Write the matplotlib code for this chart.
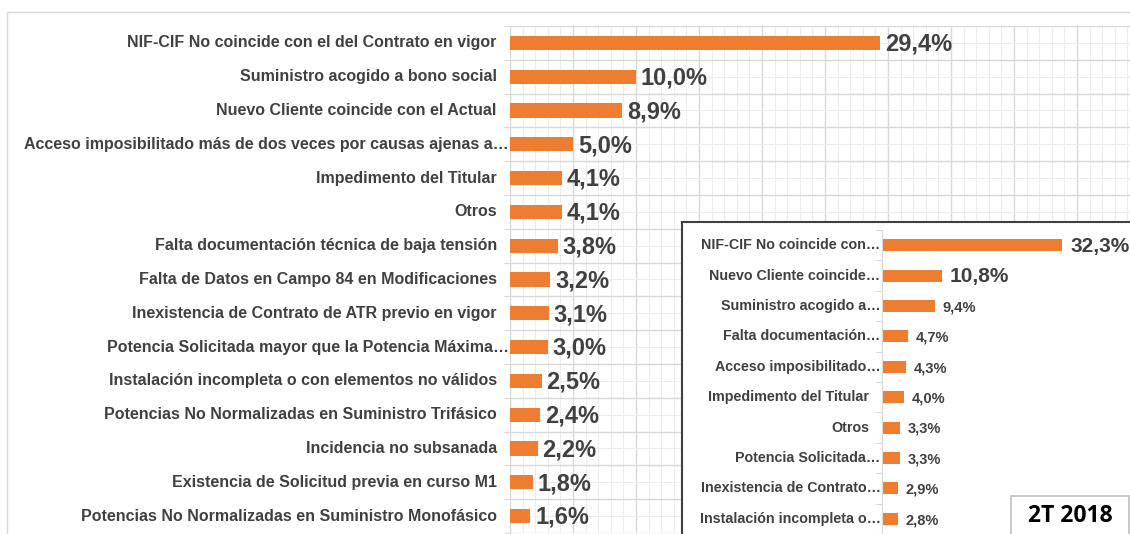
import matplotlib.pyplot as plt
from matplotlib.patches import Rectangle
from matplotlib.ticker import MultipleLocator
import numpy as np

plt.rcParams['font.family'] = ['Liberation Sans', 'DejaVu Sans']

# main chart: causes of rejection, % share
main_labels = [
    "NIF-CIF No coincide con el del Contrato en vigor",
    "Suministro acogido a bono social",
    "Nuevo Cliente coincide con el Actual",
    "Acceso imposibilitado más de dos veces por causas ajenas a…",
    "Impedimento del Titular",
    "Otros",
    "Falta documentación técnica de baja tensión",
    "Falta de Datos en Campo 84 en Modificaciones",
    "Inexistencia de Contrato de ATR previo en vigor",
    "Potencia Solicitada mayor que la Potencia Máxima…",
    "Instalación incompleta o con elementos no válidos",
    "Potencias No Normalizadas en Suministro Trifásico",
    "Incidencia no subsanada",
    "Existencia de Solicitud previa en curso M1",
    "Potencias No Normalizadas en Suministro Monofásico",
]
main_values = [29.4, 10.0, 8.9, 5.0, 4.1, 4.1, 3.8, 3.2, 3.1, 3.0, 2.5, 2.4, 2.2, 1.8, 1.6]

# inset: previous quarter
inset_labels = [
    "NIF-CIF No coincide con…",
    "Nuevo Cliente coincide…",
    "Suministro acogido a…",
    "Falta documentación…",
    "Acceso imposibilitado…",
    "Impedimento del Titular",
    "Otros",
    "Potencia Solicitada…",
    "Inexistencia de Contrato…",
    "Instalación incompleta o…",
]
inset_values = [32.3, 10.8, 9.4, 4.7, 4.3, 4.0, 3.3, 3.3, 2.9, 2.8]
inset_title = "2T 2018"

ORANGE = '#ED7D31'
TEXT = '#404040'
W, H = 1130, 534


def fmt(v):
    return f"{v:.1f}%".replace('.', ',')


def px_rect(x0, y0, x1, y1):
    # pixel box (top-left origin) -> figure fraction rect
    return [x0 / W, 1 - y1 / H, (x1 - x0) / W, (y1 - y0) / H]


fig = plt.figure(figsize=(W / 100, H / 100), dpi=100)

# outer light frame of the main chart
fig.patches.append(Rectangle((7 / W, -0.2), 1.2, 1.2 - 12 / H, transform=fig.transFigure,
                             fill=False, edgecolor='#D9D9D9', lw=1.0, zorder=0.5))

# ---- main chart
ax = fig.add_axes(px_rect(510, 26, 1140, 533))
y = np.arange(len(main_values))
ax.barh(y, main_values, height=0.42, color=ORANGE, zorder=3)
ax.set_xlim(0, 50)
ax.set_ylim(len(main_values) - 0.5, -0.5)
ax.xaxis.set_major_locator(MultipleLocator(5))
ax.xaxis.set_minor_locator(MultipleLocator(1))
ax.set_yticks(np.arange(-0.5, len(main_values), 1))
ax.set_yticks(y, minor=True)
ax.grid(which='major', color='#D9D9D9', lw=1.0, zorder=0)
ax.grid(which='minor', color='#EDEDED', lw=0.8, zorder=0)
ax.tick_params(axis='x', which='both', length=0, labelbottom=False)
ax.tick_params(axis='y', which='major', length=4, color='#D9D9D9', labelleft=False)
ax.tick_params(axis='y', which='minor', length=0, labelleft=False)
for s in ['top', 'right', 'bottom']:
    ax.spines[s].set_visible(False)
ax.spines['left'].set_color('#D9D9D9')

for yi, lab, v in zip(y, main_labels, main_values):
    pad = -1 if lab.endswith('…') else -9.5
    ax.annotate(lab, xy=(0, yi), xycoords=('axes fraction', 'data'), xytext=(pad, 0),
                textcoords='offset points', ha='right', va='center', fontsize=11.5,
                fontweight='bold', color=TEXT)
    ax.annotate(fmt(v), xy=(v, yi), xytext=(3.5, -1), textcoords='offset points',
                ha='left', va='center', fontsize=17, fontweight='bold', color=TEXT, zorder=4)

# ---- inset box
fig.patches.append(Rectangle((682 / W, -0.2), 1.2, 1.2 - 222 / H, transform=fig.transFigure,
                             facecolor='white', edgecolor='#404040', lw=1.5, zorder=1))

ins = fig.add_axes(px_rect(882, 230, 1130, 534))
ins.set_zorder(2)
ins.patch.set_alpha(0)
yi_ = np.arange(len(inset_values))
ins.barh(yi_, inset_values, height=0.4, color=ORANGE)
ins.set_xlim(0, 44.4)
ins.set_ylim(len(inset_values) - 0.5, -0.5)
ins.set_xticks([])
ins.set_yticks(np.arange(-0.5, len(inset_values), 1))
ins.tick_params(axis='y', length=4, color='#D9D9D9', labelleft=False)
for s in ['top', 'right', 'bottom']:
    ins.spines[s].set_visible(False)
ins.spines['left'].set_color('#D9D9D9')

value_sizes = [15, 15] + [10.5] * (len(inset_values) - 2)
for yy, lab, v, fs in zip(yi_, inset_labels, inset_values, value_sizes):
    pad = -1 if lab.endswith('…') else -9
    ins.annotate(lab, xy=(0, yy), xycoords=('axes fraction', 'data'), xytext=(pad, 0),
                 textcoords='offset points', ha='right', va='center', fontsize=10.3,
                 fontweight='bold', color=TEXT)
    ins.annotate(fmt(v), xy=(v, yy), xytext=(5.5, -1), textcoords='offset points',
                 ha='left', va='center', fontsize=fs, fontweight='bold', color=TEXT)

# quarter tag
fig.patches.append(Rectangle((1011 / W, -0.1), 118 / W, 0.1 + 1 - 496 / H, transform=fig.transFigure,
                             facecolor='white', edgecolor='#BFBFBF', lw=1.2, zorder=3))
fig.text(1070 / W, 1 - 516 / H, inset_title, ha='center', va='center', fontsize=16.5,
         fontweight='bold', family=['Open Sans', 'DejaVu Sans'], color='black', zorder=4)

fig.savefig('out.png', dpi=100)
